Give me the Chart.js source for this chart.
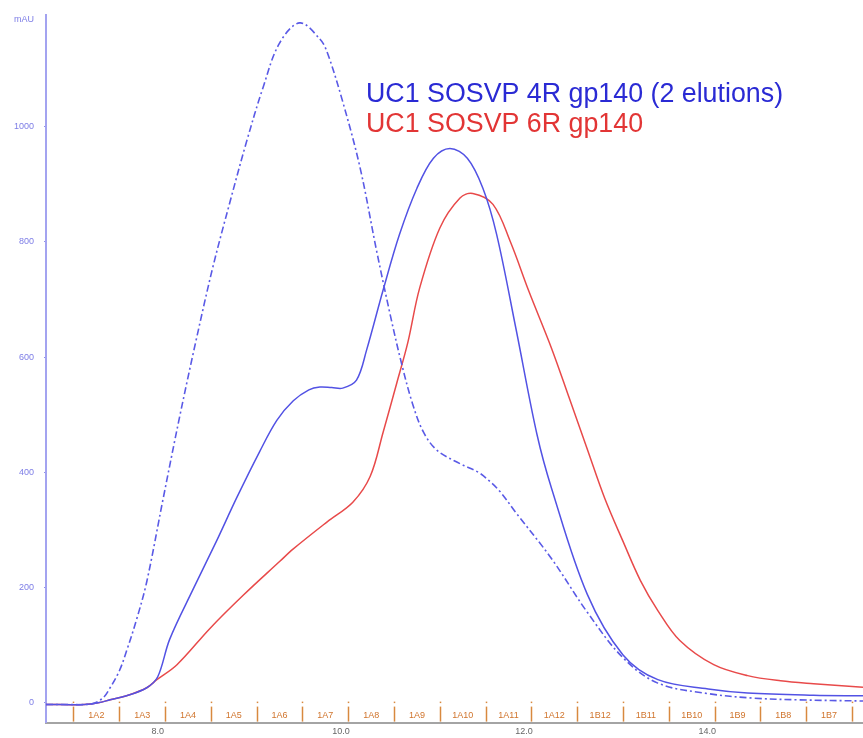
<!DOCTYPE html>
<html>
<head>
<meta charset="utf-8">
<script src="https://cdn.jsdelivr.net/npm/chart.js@4/dist/chart.umd.min.js"></script>
<style>
html,body{margin:0;padding:0;background:#fff;}
canvas{display:block;}
</style>
</head>
<body>
<canvas id="c" width="863" height="738"></canvas>
<script>
// Elution volume (mL) and absorbance (mAU)
const vol4RpeakA = [6.78, 7.0, 7.28, 7.40, 7.48, 7.58, 7.66, 7.77, 7.88, 8.06, 8.24, 8.42, 8.60, 8.79, 8.97, 9.15, 9.33, 9.55, 9.77, 9.85, 10.02, 10.21, 10.39, 10.54, 10.66, 10.78, 10.90, 11.05, 11.30, 11.50, 11.62, 11.74, 11.91, 12.30, 12.69, 13.08, 13.46, 14.0, 14.5, 15.0, 15.7];
const mau4RpeakA = [-3, -3, -2, 8, 26, 55, 90, 145, 210, 355, 497, 630, 755, 870, 974, 1068, 1145, 1180, 1152, 1129, 1043, 928, 784, 672, 590, 520, 470, 438, 415, 400, 385, 366, 330, 250, 157, 78, 34, 16, 8, 5, 3];

const vol4R = [6.78, 7.2, 7.35, 7.48, 7.66, 7.88, 8.00, 8.13, 8.38, 8.64, 8.86, 9.11, 9.30, 9.48, 9.65, 9.77, 9.90, 10.02, 10.17, 10.28, 10.46, 10.64, 10.83, 11.01, 11.19, 11.38, 11.55, 11.70, 11.91, 12.14, 12.30, 12.69, 13.08, 13.46, 14.01, 14.44, 15.16, 15.7];
const mau4R = [-3, -3, 0, 5, 12, 26, 45, 110, 195, 280, 355, 435, 490, 524, 543, 548, 547, 546, 560, 612, 716, 813, 893, 945, 962, 945, 893, 813, 650, 466, 372, 188, 83, 40, 24, 17, 13, 12];

const vol6R = [6.78, 7.2, 7.35, 7.48, 7.66, 7.88, 7.99, 8.21, 8.57, 8.93, 9.33, 9.48, 9.85, 10.13, 10.32, 10.46, 10.61, 10.73, 10.86, 11.08, 11.30, 11.44, 11.66, 11.85, 12.05, 12.30, 12.49, 12.69, 12.88, 13.08, 13.27, 13.46, 13.70, 14.07, 14.44, 14.80, 15.16, 15.7];
const mau6R = [-3, -3, 0, 5, 12, 26, 40, 66, 129, 186, 245, 267, 314, 348, 393, 469, 555, 625, 720, 824, 876, 884, 865, 800, 715, 615, 530, 440, 355, 280, 212, 160, 108, 66, 47, 38, 33, 27];

const seriesNames = ['UC1 SOSVP 4R gp140 (2 elutions)', 'UC1 SOSVP 6R gp140'];

const fractionBounds = [7.08, 7.58, 8.08, 8.58, 9.08, 9.58, 10.08, 10.58, 11.08, 11.58, 12.08, 12.58, 13.08, 13.58, 14.08, 14.58, 15.08, 15.58];
const fractionNames = ['1A2','1A3','1A4','1A5','1A6','1A7','1A8','1A9','1A10','1A11','1A12','1B12','1B11','1B10','1B9','1B8','1B7'];

const yTicks = [0, 200, 400, 600, 800, 1000];
const xTicks = [8, 10, 12, 14];
const yUnit = 'mAU';

const toPts = (xs, ys) => xs.map((x, i) => ({x: x, y: ys[i]}));

const FONT = '"Liberation Sans", Arial, Helvetica, sans-serif';

const overlay = {
  id: 'overlay',
  beforeDatasetsDraw(chart) {
    const ctx = chart.ctx;
    const xs = chart.scales.x;
    const bottom = chart.chartArea.bottom;
    ctx.save();
    ctx.strokeStyle = '#d8893f';
    ctx.fillStyle = '#d8893f';
    ctx.lineWidth = 1.5;
    fractionBounds.forEach(v => {
      const px = Math.round(xs.getPixelForValue(v)) + 0.5;
      ctx.beginPath();
      ctx.moveTo(px, bottom - 16);
      ctx.lineTo(px, bottom - 1);
      ctx.stroke();
      ctx.fillRect(px - 0.75, bottom - 21, 1.5, 1.5);
    });
    ctx.font = '9px ' + FONT;
    ctx.textAlign = 'center';
    ctx.textBaseline = 'middle';
    ctx.fillStyle = '#d0742c';
    fractionNames.forEach((n, i) => {
      const a = xs.getPixelForValue(fractionBounds[i]);
      const b = xs.getPixelForValue(fractionBounds[i + 1]);
      ctx.fillText(n, (a + b) / 2, bottom - 7);
    });
    ctx.restore();
  },
  afterDraw(chart) {
    const ctx = chart.ctx;
    const area = chart.chartArea;
    ctx.save();
    ctx.font = '9px ' + FONT;
    ctx.fillStyle = '#7d7de6';
    ctx.textAlign = 'right';
    ctx.textBaseline = 'middle';
    ctx.fillText(yUnit, area.left - 12, 20);
    ctx.font = '26.8px ' + FONT;
    ctx.textAlign = 'left';
    ctx.textBaseline = 'alphabetic';
    ctx.fillStyle = '#2a2ad4';
    ctx.fillText(seriesNames[0], 366, 102);
    ctx.fillStyle = '#e23535';
    ctx.fillText(seriesNames[1], 366, 132);
    ctx.restore();
  }
};

new Chart(document.getElementById('c'), {
  type: 'line',
  data: {
    datasets: [
      {
        label: seriesNames[0] + ' A',
        data: toPts(vol4RpeakA, mau4RpeakA),
        borderColor: '#5a5ae6',
        borderWidth: 1.6,
        borderDash: [7, 3, 2, 3],
        pointRadius: 0,
        tension: 0.35,
        fill: false
      },
      {
        label: seriesNames[0],
        data: toPts(vol4R, mau4R),
        borderColor: '#5252e4',
        borderWidth: 1.5,
        pointRadius: 0,
        tension: 0.35,
        fill: false
      },
      {
        label: seriesNames[1],
        data: toPts(vol6R, mau6R),
        borderColor: '#e84a4a',
        borderWidth: 1.5,
        pointRadius: 0,
        tension: 0.35,
        fill: false
      }
    ]
  },
  options: {
    responsive: false,
    animation: false,
    layout: {padding: {left: 0, top: 13, right: 0, bottom: 0}},
    plugins: {legend: {display: false}, tooltip: {enabled: false}},
    scales: {
      x: {
        type: 'linear',
        min: 6.78,
        max: 15.7,
        afterFit(s) { s.height = 13; },
        afterBuildTicks(s) { s.ticks = xTicks.map(v => ({value: v})); },
        grid: {display: false, drawTicks: false},
        border: {display: true, color: '#a4a4a4', width: 2},
        ticks: {
          padding: 4,
          maxRotation: 0,
          autoSkip: false,
          color: '#666',
          font: {size: 9, family: FONT},
          callback: v => Number(v).toFixed(1)
        }
      },
      y: {
        type: 'linear',
        min: -34.5,
        max: 1193,
        afterFit(s) { s.width = 46; },
        afterBuildTicks(s) { s.ticks = yTicks.map(v => ({value: v})); },
        grid: {display: true, drawOnChartArea: false, drawTicks: true, tickLength: 2, color: '#8f8fe8'},
        border: {display: true, color: '#a3a3f0', width: 2},
        ticks: {
          padding: 10,
          color: '#7d7de6',
          font: {size: 9, family: FONT},
          callback: v => String(v)
        }
      }
    }
  },
  plugins: [overlay]
});
</script>
</body>
</html>
